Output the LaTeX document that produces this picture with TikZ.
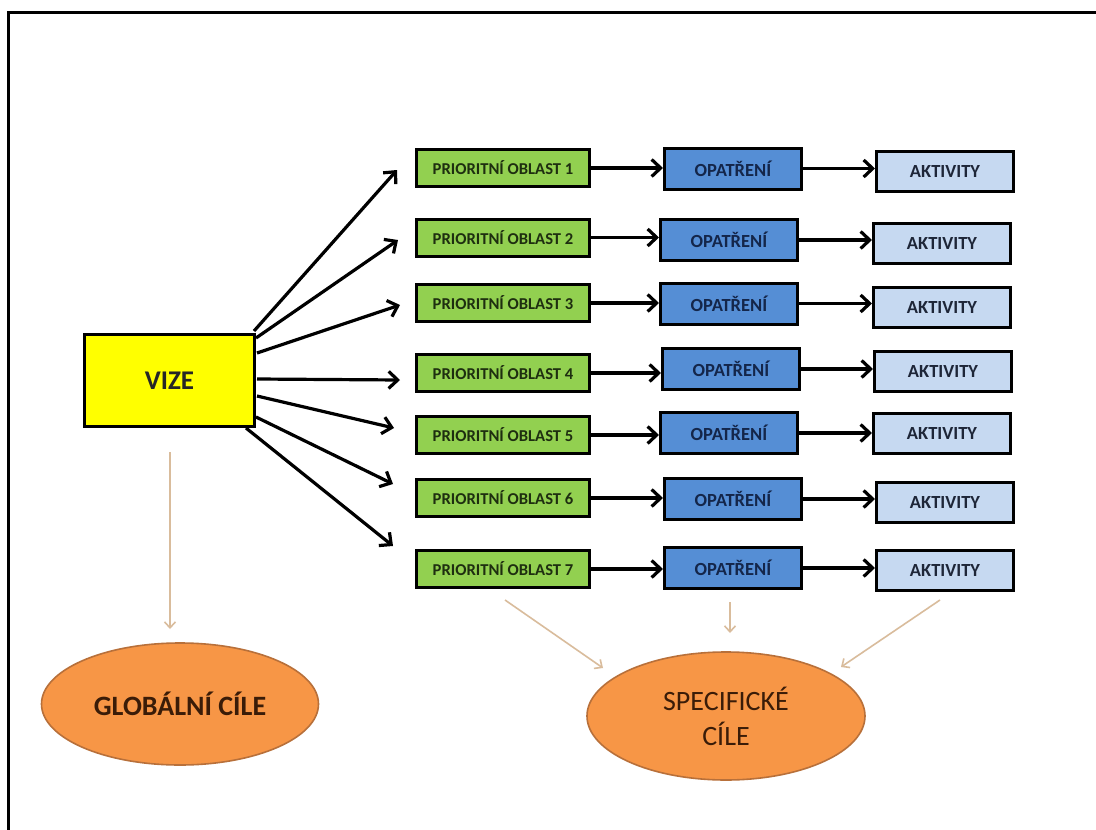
\documentclass[tikz,border=0pt]{standalone}
\usepackage{fontspec}
\setmainfont{Carlito}
\usetikzlibrary{arrows.meta,shapes.geometric}
\definecolor{gfill}{HTML}{92D050}
\definecolor{bfill}{HTML}{558ED5}
\definecolor{afill}{HTML}{C6D9F1}
\definecolor{vfill}{HTML}{FFFF00}
\definecolor{ofill}{HTML}{F79646}
\definecolor{oline}{HTML}{B8703A}
\definecolor{tan}{HTML}{D9BC9C}
\definecolor{gtext}{HTML}{1E2E10}
\definecolor{btext}{HTML}{14264A}
\definecolor{atext}{HTML}{1E2638}
\definecolor{etext}{HTML}{3A1C08}
\begin{document}
\begin{tikzpicture}[x=1pt,y=-1pt,
  boxbase/.style={draw=black,line width=3pt,rectangle,inner sep=0pt},
  gbox/.style={boxbase,fill=gfill,minimum width=173pt,minimum height=37pt,
    text=gtext,font=\fontsize{16.6}{19}\selectfont\bfseries},
  bbox/.style={boxbase,fill=bfill,minimum width=137pt,minimum height=41pt,
    text=btext,font=\fontsize{18.5}{21}\selectfont\bfseries},
  abox/.style={boxbase,fill=afill,minimum width=137pt,minimum height=40pt,
    text=atext,font=\fontsize{18.5}{21}\selectfont\bfseries},
  vbox/.style={boxbase,fill=vfill,minimum width=170pt,minimum height=92pt,
    text=black!85,font=\fontsize{27}{32}\selectfont\bfseries},
  ell/.style={ellipse,draw=oline,line width=1.6pt,fill=ofill,inner sep=0pt,text=etext,align=center},
  fan/.style={draw=black,line width=3.2pt,-{Straight Barb[length=9pt,width=17pt,line width=3.2pt]}},
  link/.style={draw=black,line width=3.2pt,-{Straight Barb[length=9pt,width=17pt,line width=3.2pt]}},
  thin/.style={draw=tan,line width=1.6pt,-{Straight Barb[length=6pt,width=11pt,line width=1.6pt]}}
]
\useasboundingbox (0,0) rectangle (1096,830);
\fill[white] (0,0) rectangle (1096,830);
\draw[line width=2.8pt,line cap=rect] (8.5,832) -- (8.5,12.5) -- (1098,12.5);

% VIZE
\node[vbox] (v) at (169.5,380.5) {VIZE};

% priority rows
\node[gbox] (g1) at (503,168) {PRIORITNÍ OBLAST 1};
\node[gbox] (g2) at (503,237.5) {PRIORITNÍ OBLAST 2};
\node[gbox] (g3) at (503,303) {PRIORITNÍ OBLAST 3};
\node[gbox] (g4) at (503,373) {PRIORITNÍ OBLAST 4};
\node[gbox] (g5) at (503,435) {PRIORITNÍ OBLAST 5};
\node[gbox] (g6) at (503,498) {PRIORITNÍ OBLAST 6};
\node[gbox] (g7) at (503,569) {PRIORITNÍ OBLAST 7};

\node[bbox] (b1) at (733,168.5) {OPATŘENÍ};
\node[bbox] (b2) at (729,240) {OPATŘENÍ};
\node[bbox] (b3) at (729,303.5) {OPATŘENÍ};
\node[bbox] (b4) at (731,369) {OPATŘENÍ};
\node[bbox] (b5) at (729,433) {OPATŘENÍ};
\node[bbox] (b6) at (733,499) {OPATŘENÍ};
\node[bbox] (b7) at (733,568) {OPATŘENÍ};

\node[abox] (a1) at (945,171.5) {AKTIVITY};
\node[abox] (a2) at (942,243) {AKTIVITY};
\node[abox] (a3) at (942,307) {AKTIVITY};
\node[abox] (a4) at (943,371.5) {AKTIVITY};
\node[abox] (a5) at (942,433.5) {AKTIVITY};
\node[abox] (a6) at (945,502.5) {AKTIVITY};
\node[abox] (a7) at (945,570.5) {AKTIVITY};

\foreach \i in {1,...,7}{
  \draw[link] (g\i.east) -- (b\i.west |- g\i.east);
  \draw[link] (b\i.east) -- (a\i.west |- b\i.east);
}

% fan arrows from VIZE
\coordinate (s1) at (254,331);
\coordinate (s2) at (256,338);
\coordinate (s3) at (257,353);
\coordinate (s4) at (257,379);
\coordinate (s5) at (257,396);
\coordinate (s6) at (256,417);
\coordinate (s7) at (246,428);
\coordinate (t1) at (397,170);
\coordinate (t2) at (398,240);
\coordinate (t3) at (400,305);
\coordinate (t4) at (400,380);
\coordinate (t5) at (394,428);
\coordinate (t6) at (393,484);
\coordinate (t7) at (393,546);
\foreach \i in {1,...,7}{
  \draw[fan] (s\i) -- (t\i);
}

% ellipses
\node[ell,minimum width=277pt,minimum height=122pt,font=\fontsize{28}{33}\selectfont\bfseries]
  (gc) at (180,704) {GLOBÁLNÍ CÍLE};
\node[ell,minimum width=278pt,minimum height=128pt,font=\fontsize{28}{35}\selectfont]
  (sc) at (726,716) {SPECIFICKÉ\\CÍLE};

% tan arrows
\coordinate (u0) at (170,452);
\coordinate (w0) at (170,629);
\coordinate (u1) at (505,600);
\coordinate (w1) at (603,668);
\coordinate (u2) at (730,602);
\coordinate (w2) at (730,633);
\coordinate (u3) at (940,600);
\coordinate (w3) at (841,667);
\draw[thin] (u0) -- (w0);
\draw[thin] (u1) -- (w1);
\draw[thin] (u2) -- (w2);
\draw[thin] (u3) -- (w3);
\end{tikzpicture}
\end{document}
